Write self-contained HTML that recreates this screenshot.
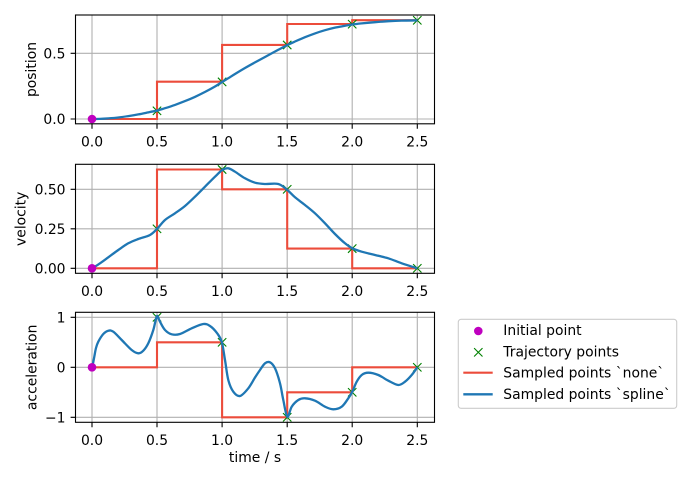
<!DOCTYPE html>
<html><head><meta charset="utf-8"><style>
html,body{margin:0;padding:0;background:#fff;}
svg{display:block;}
text{font-family:"DejaVu Sans","Liberation Sans",sans-serif;font-size:13.9px;fill:#000;}
</style></head><body>
<svg id="fig" width="700" height="480" viewBox="0 0 700 480" xmlns="http://www.w3.org/2000/svg">
<rect width="700" height="480" fill="#fff"/>
<defs>
<g id="gx"><path d="M-4.2,-4.2L4.2,4.2M-4.2,4.2L4.2,-4.2" stroke="#008000" stroke-width="1.1" fill="none"/></g>
</defs>

<!-- ===== Axes 1: position ===== -->
<g stroke="#b0b0b0" stroke-width="1.1">
<path d="M92,15V123.8M157,15V123.8M222.1,15V123.8M287.2,15V123.8M352.2,15V123.8M417.3,15V123.8"/>
<path d="M75.5,119H434.5M75.5,53.35H434.5"/>
</g>
<path d="M92,119H157V81.7H222.1V44.9H287.2V24H352.2V20.2H417.3" fill="none" stroke="#ec4c3b" stroke-width="2.1"/>
<g>
<use href="#gx" x="157" y="110.8"/><use href="#gx" x="222.1" y="81.9"/><use href="#gx" x="287.2" y="45"/><use href="#gx" x="352.2" y="24.2"/><use href="#gx" x="417.3" y="20.3"/>
</g>
<polyline class="sm" fill="none" stroke="#1f77b4" stroke-width="2.3" stroke-linejoin="round" points="92,119 99.9,118.9 108.3,118.4 118.3,117.5 128.3,116.1 138.3,114.4 150,112 157,110.6 165,108.2 175,104.9 185,101.1 194.9,96.9 205.1,91.9 215,86.5 222.1,82 228.3,78.2 235,74 245,68 255,62.4 265,57 278.3,49.8 287.2,45.1 295,41.5 305,37.2 315,33.4 325,30.2 335,27.6 345,25.8 352.2,24.5 361.7,23.4 375,22.2 388.4,21.2 401.6,20.6 417.3,20.4"/>
<circle cx="92" cy="119" r="4.3" fill="#bf00bf"/>
<rect x="75.5" y="15" width="359" height="108.8" fill="none" stroke="#000" stroke-width="1.1"/>
<g stroke="#000" stroke-width="1.1">
<path d="M92,123.8v4.9M157,123.8v4.9M222.1,123.8v4.9M287.2,123.8v4.9M352.2,123.8v4.9M417.3,123.8v4.9"/>
<path d="M75.5,119h-4.9M75.5,53.35h-4.9"/>
</g>
<g text-anchor="middle">
<text x="92" y="146.5">0.0</text><text x="157" y="146.5">0.5</text><text x="222.1" y="146.5">1.0</text><text x="287.2" y="146.5">1.5</text><text x="352.2" y="146.5">2.0</text><text x="417.3" y="146.5">2.5</text>
</g>
<g text-anchor="end">
<text x="65.5" y="124">0.0</text><text x="65.5" y="58.4">0.5</text>
</g>
<text transform="translate(35.8,69.5) rotate(-90)" text-anchor="middle">position</text>

<!-- ===== Axes 2: velocity ===== -->
<g stroke="#b0b0b0" stroke-width="1.1">
<path d="M92,164.3V273.3M157,164.3V273.3M222.1,164.3V273.3M287.2,164.3V273.3M352.2,164.3V273.3M417.3,164.3V273.3"/>
<path d="M75.5,268.3H434.5M75.5,228.8H434.5M75.5,189.3H434.5"/>
</g>
<path d="M92,268.3H157V169.5H222.1V189.3H287.2V248.6H352.2V268.3H417.3" fill="none" stroke="#ec4c3b" stroke-width="2.1"/>
<g>
<use href="#gx" x="157" y="228.8"/><use href="#gx" x="222.1" y="169.5"/><use href="#gx" x="287.2" y="189.3"/><use href="#gx" x="352.2" y="248.6"/><use href="#gx" x="417.3" y="268.3"/>
</g>
<polyline class="sm" fill="none" stroke="#1f77b4" stroke-width="2.3" stroke-linejoin="round" points="92.3,268.3 100,263.3 108.3,257.3 118.3,250 128.3,243.3 138.3,239 150,235 157.3,228.6 165,220 175,213.3 185,206 195,196.7 205,186.7 215,176.7 222.3,170 228.3,168.3 235,171.7 245,178.3 255,182.7 265,184 278.3,184 287.3,190 295,197.3 305,205 315,213.3 325,223.3 335,234 345,243.3 352.3,248.3 361.7,251.7 375,255 388.3,258.3 401.7,263.3 417.3,268.3"/>
<circle cx="92" cy="268.3" r="4.3" fill="#bf00bf"/>
<rect x="75.5" y="164.3" width="359" height="109" fill="none" stroke="#000" stroke-width="1.1"/>
<g stroke="#000" stroke-width="1.1">
<path d="M92,273.3v4.9M157,273.3v4.9M222.1,273.3v4.9M287.2,273.3v4.9M352.2,273.3v4.9M417.3,273.3v4.9"/>
<path d="M75.5,268.3h-4.9M75.5,228.8h-4.9M75.5,189.3h-4.9"/>
</g>
<g text-anchor="middle">
<text x="92" y="295.9">0.0</text><text x="157" y="295.9">0.5</text><text x="222.1" y="295.9">1.0</text><text x="287.2" y="295.9">1.5</text><text x="352.2" y="295.9">2.0</text><text x="417.3" y="295.9">2.5</text>
</g>
<g text-anchor="end">
<text x="65.5" y="273.3">0.00</text><text x="65.5" y="233.8">0.25</text><text x="65.5" y="194.3">0.50</text>
</g>
<text transform="translate(25.6,218.8) rotate(-90)" text-anchor="middle">velocity</text>

<!-- ===== Axes 3: acceleration ===== -->
<g stroke="#b0b0b0" stroke-width="1.1">
<path d="M92,312.3V422.3M157,312.3V422.3M222.1,312.3V422.3M287.2,312.3V422.3M352.2,312.3V422.3M417.3,312.3V422.3"/>
<path d="M75.5,417.3H434.5M75.5,367.3H434.5M75.5,317.3H434.5"/>
</g>
<path d="M92,367.3H157V342.3H222.1V417.3H287.2V392.3H352.2V367.3H417.3" fill="none" stroke="#ec4c3b" stroke-width="2.1"/>
<g>
<use href="#gx" x="157" y="317.3"/><use href="#gx" x="222.1" y="342.3"/><use href="#gx" x="287.2" y="417.3"/><use href="#gx" x="352.2" y="392.3"/><use href="#gx" x="417.3" y="367.3"/>
</g>
<polyline class="sm" fill="none" stroke="#1f77b4" stroke-width="2.3" stroke-linejoin="round" points="92.3,367.3 94.3,356.7 96,348 98.3,341.7 103.3,334 108.3,330.7 113.3,331.7 121.7,340 131.7,350 138.3,353.3 143.3,350.7 148.3,343.3 153.3,330 155.7,320 157.3,316 160,321.7 165,330 171.7,334.3 180,334 191.7,328.3 203.3,324 210,326 216.7,332.7 221.7,341.7 225,360 228.3,380 233.3,391.7 240,396 248.3,388.3 255,377.5 260,370 265,363.3 270,362.3 275,368.3 280,383.3 283.3,400 287.3,416.7 291.7,406.7 298.3,400 305,398.3 315,400.7 325,406.7 333.3,409.3 341.7,406.7 348.3,398.3 352.3,391.7 356.7,381.7 361.7,375 368.3,372.7 378.3,375 388.3,380.7 398.3,385 405,381.7 411.7,375 417.3,367.3"/>
<circle cx="92" cy="367.3" r="4.3" fill="#bf00bf"/>
<rect x="75.5" y="312.3" width="359" height="110" fill="none" stroke="#000" stroke-width="1.1"/>
<g stroke="#000" stroke-width="1.1">
<path d="M92,422.3v4.9M157,422.3v4.9M222.1,422.3v4.9M287.2,422.3v4.9M352.2,422.3v4.9M417.3,422.3v4.9"/>
<path d="M75.5,417.3h-4.9M75.5,367.3h-4.9M75.5,317.3h-4.9"/>
</g>
<g text-anchor="middle">
<text x="92" y="444.8">0.0</text><text x="157" y="444.8">0.5</text><text x="222.1" y="444.8">1.0</text><text x="287.2" y="444.8">1.5</text><text x="352.2" y="444.8">2.0</text><text x="417.3" y="444.8">2.5</text>
</g>
<g text-anchor="end">
<text x="65.5" y="422.3">−1</text><text x="65.5" y="372.3">0</text><text x="65.5" y="322.3">1</text>
</g>
<text transform="translate(36.5,367.3) rotate(-90)" text-anchor="middle">acceleration</text>
<text x="255" y="462" text-anchor="middle">time / s</text>

<!-- ===== Legend ===== -->
<rect x="458.3" y="319.3" width="218.4" height="89" rx="2.8" ry="2.8" fill="#fff" fill-opacity="0.8" stroke="#cccccc" stroke-width="1.1"/>
<circle cx="478.3" cy="331" r="4.3" fill="#bf00bf"/>
<use href="#gx" x="478.3" y="352.3"/>
<path d="M463.3,372.7H492.7" stroke="#ec4c3b" stroke-width="2.1"/>
<path d="M463.3,394.3H492.7" stroke="#1f77b4" stroke-width="2.3"/>
<text x="503.3" y="335.2">Initial point</text>
<text x="503.3" y="356.4">Trajectory points</text>
<text x="503.3" y="377.6">Sampled points `none`</text>
<text x="503.3" y="399">Sampled points `spline`</text>
</svg>
<script>
(function(){
  var NS="http://www.w3.org/2000/svg";
  var pls=document.querySelectorAll("polyline.sm");
  for(var k=0;k<pls.length;k++){
    var pl=pls[k];
    var raw=pl.getAttribute("points").trim().split(/\s+/);
    var P=raw.map(function(s){var a=s.split(",");return [parseFloat(a[0]),parseFloat(a[1])];});
    var d="M"+P[0][0]+","+P[0][1];
    for(var i=0;i<P.length-1;i++){
      var p0=P[i>0?i-1:i],p1=P[i],p2=P[i+1],p3=P[i+2<P.length?i+2:i+1];
      var c1x=p1[0]+(p2[0]-p0[0])/6,c1y=p1[1]+(p2[1]-p0[1])/6;
      var c2x=p2[0]-(p3[0]-p1[0])/6,c2y=p2[1]-(p3[1]-p1[1])/6;
      d+="C"+c1x.toFixed(2)+","+c1y.toFixed(2)+" "+c2x.toFixed(2)+","+c2y.toFixed(2)+" "+p2[0]+","+p2[1];
    }
    var path=document.createElementNS(NS,"path");
    path.setAttribute("d",d);
    path.setAttribute("fill","none");
    path.setAttribute("stroke",pl.getAttribute("stroke"));
    path.setAttribute("stroke-width",pl.getAttribute("stroke-width"));
    path.setAttribute("stroke-linejoin","round");
    pl.parentNode.replaceChild(path,pl);
  }
})();
</script>
</body></html>
